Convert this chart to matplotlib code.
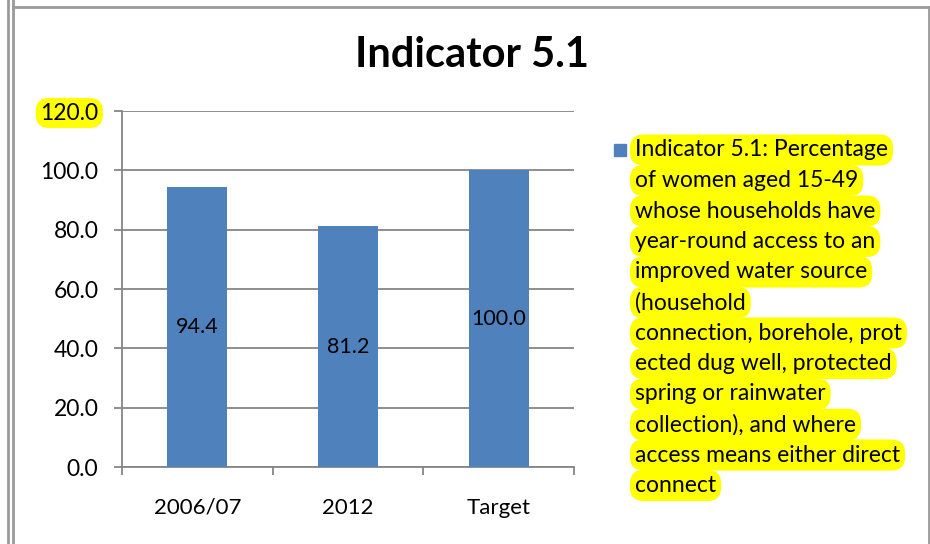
import matplotlib
matplotlib.use("Agg")
import matplotlib.pyplot as plt
from matplotlib.patches import Rectangle
from matplotlib.lines import Line2D

categories = ["2006/07", "2012", "Target"]
values = [94.4, 81.2, 100.0]
yticks = [0, 20, 40, 60, 80, 100, 120]
title = "Indicator 5.1"
legend_lines = [
    "Indicator 5.1: Percentage",
    "of women aged 15-49",
    "whose households have",
    "year-round access to an",
    "improved water source",
    "(household",
    "connection, borehole, prot",
    "ected dug well, protected",
    "spring or rainwater",
    "collection), and where",
    "access means either direct",
    "connect",
]

BAR = "#4F81BD"
AXC = "#868686"
FONT = ["Lato", "DejaVu Sans"]
plt.rcParams["font.family"] = FONT

W, H = 930, 544
fig = plt.figure(figsize=(W / 100, H / 100), dpi=100)

def fx(x):
    return x / W

def fy(y):
    return 1 - y / H

# border lines
for x in (7.5, 12.5):
    fig.add_artist(Line2D([fx(x), fx(x)], [0, 1], color="#9a9a9a", lw=2))
fig.add_artist(Line2D([fx(12.5), fx(928.5)], [fy(6.5), fy(6.5)], color="#9a9a9a", lw=2))
fig.add_artist(Line2D([fx(928.5), fx(928.5)], [fy(6.5), 0], color="#9a9a9a", lw=2))

left, right, top, bottom = 122, 574, 111, 467
ax = fig.add_axes([fx(left), fy(bottom), fx(right - left), (bottom - top) / H])

x = range(len(categories))
ax.bar(x, values, width=0.4, color=BAR, zorder=3)
for xi, v in zip(x, values):
    ax.text(xi, v / 2, f"{v:.1f}", ha="center", va="center", fontsize=15.5, color="black", zorder=4)

ax.set_xlim(-0.5, len(categories) - 0.5)
ax.set_ylim(0, 120)
ax.set_yticks(yticks)
ax.set_yticklabels([f"{t:.1f}" for t in yticks], fontsize=16.5)
ax.yaxis.grid(True, color=AXC, lw=1.3, zorder=0)
ax.set_axisbelow(True)

ax.set_xticks(list(x))
ax.set_xticklabels(categories, fontsize=16)
ax.set_xticks([i - 0.5 for i in range(len(categories) + 1)], minor=True)
ax.tick_params(axis="x", which="major", length=0, pad=22)
ax.tick_params(axis="x", which="minor", length=6, color=AXC, width=1.3)
ax.tick_params(axis="y", length=6, color=AXC, width=1.3, pad=11)

for s in ("top", "right"):
    ax.spines[s].set_visible(False)
for s in ("left", "bottom"):
    ax.spines[s].set_color(AXC)
    ax.spines[s].set_linewidth(1.3)

ax.get_yticklabels()[-1].set_bbox(dict(boxstyle="round,pad=0.2,rounding_size=0.6", fc="yellow", ec="none"))

fig.text(fx(472), fy(55), title, ha="center", va="center", fontsize=30, fontweight="bold")

# legend
fig.add_artist(Rectangle((fx(614), fy(156)), fx(12), 12 / H, color=BAR))
for i, line in enumerate(legend_lines):
    fig.text(fx(635), fy(150 + i * 30.5), line, ha="left", va="center", fontsize=16.5,
             bbox=dict(boxstyle="round,pad=0.22,rounding_size=0.6", fc="yellow", ec="none"))

fig.savefig("out.png", dpi=100)
